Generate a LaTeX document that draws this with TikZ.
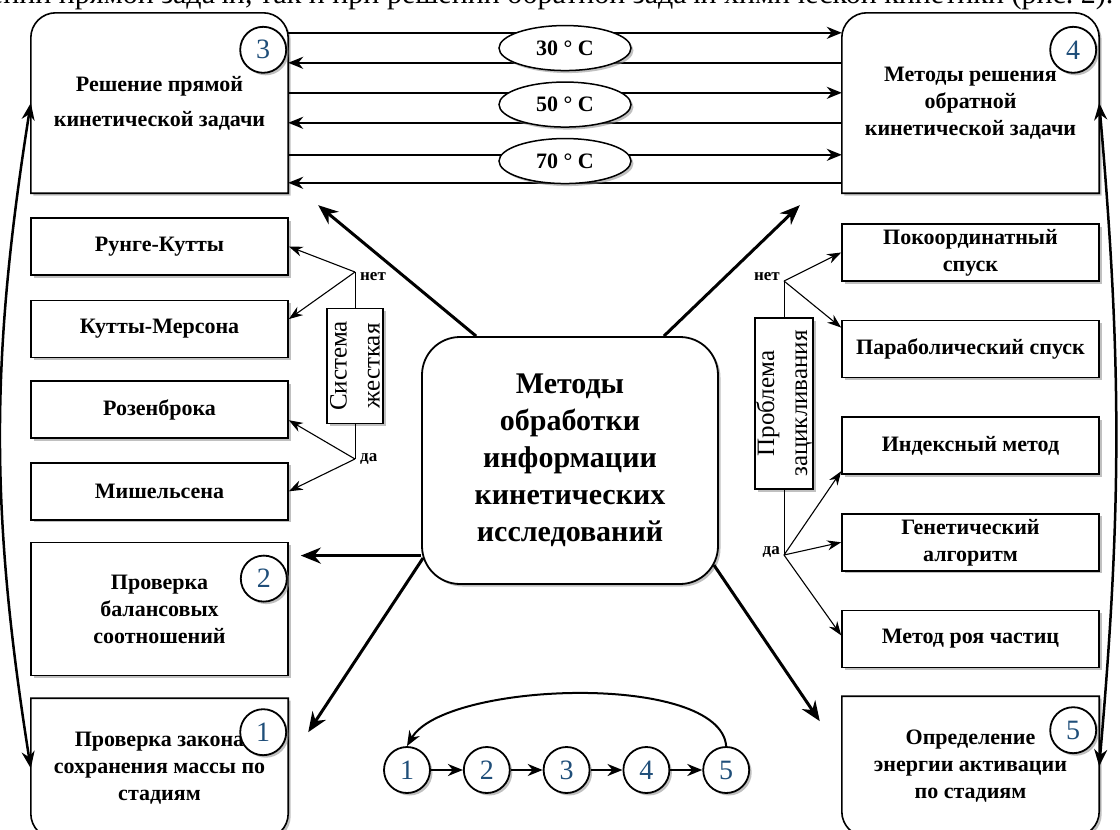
\documentclass[tikz,border=0pt]{standalone}
\usepackage{fontspec}
\setmainfont{Liberation Serif}
\usepackage{xcolor}
\usepackage{tikz}
\usetikzlibrary{shapes.geometric, arrows.meta, positioning, calc, backgrounds, shadows}

\definecolor{numblue}{HTML}{1F4E79}

\begin{document}
\begin{tikzpicture}[
    x=1pt, y=1pt,
    node distance=23pt and 20pt,
    font=\fontsize{22}{27}\selectfont\bfseries,
    dropsh/.style={drop shadow={shadow xshift=2.5pt, shadow yshift=-2.5pt, fill=black!45, opacity=0.55}},
    big/.style={minimum width=257pt, minimum height=180pt, align=center, inner sep=0pt},
    outline/.style={line width=1.6pt, fill=white, dropsh},
    method/.style={draw, line width=1.6pt, fill=white, dropsh, minimum width=257pt, minimum height=57pt, align=center, inner sep=2pt},
    cen/.style={draw, line width=1.8pt, fill=white, dropsh, rounded corners=38pt, minimum width=296pt, minimum height=247pt, align=center, font=\fontsize{30}{37}\selectfont\bfseries},
    badge/.style={circle, draw, line width=1.8pt, fill=white, dropsh, minimum size=46pt, inner sep=0pt, font=\fontsize{28}{28}\selectfont\mdseries, text=numblue},
    temp/.style={ellipse, draw, line width=1.5pt, fill=white, dropsh, minimum width=132pt, minimum height=45pt, inner sep=0pt},
    cond/.style={draw, line width=1.2pt, fill=white, dropsh, rotate=90, align=center, inner sep=1pt, font=\fontsize{25}{33}\selectfont\mdseries},
    lbl/.style={inner sep=1pt, font=\fontsize{17}{17}\selectfont\bfseries},
    arrow/.style={-{Stealth[length=15pt, width=12pt]}, line width=2pt},
    bigarrow/.style={-{Stealth[length=20pt, width=16pt]}, line width=3pt},
    dblarrow/.style={{Stealth[length=17pt, width=13pt]}-{Stealth[length=17pt, width=13pt]}, line width=2.5pt},
    branch/.style={-{Stealth[length=14pt, width=10pt]}, line width=1.1pt}
]
    \useasboundingbox (0,0) rectangle (1120,-830);

    % Page text cut by the top edge
    \begin{scope}
        \clip (0,0) rectangle (1120,-830);
        \node[anchor=base east, font=\fontsize{30}{32}\selectfont\mdseries] (pagetext) at (1117,-3.5) {ении прямой задачи, так и при решении обратной задачи химической кинетики (рис.~2).};
    \end{scope}

    % Direct and inverse problem
    \node[big] (b3) at (159.5,-103) {Решение прямой\\[8pt]кинетической задачи};
    \node[big] (b4) at (970.5,-103) {Методы решения\\обратной\\кинетической задачи};

    % Left column
    \node[method, below=24pt of b3] (rk) {Рунге-Кутты};
    \node[method, below=24pt of rk] (km) {Кутты-Мерсона};
    \node[method, below=22pt of km] (rb) {Розенброка};
    \node[method, below=23pt of rb] (mi) {Мишельсена};
    \node[method, below=21pt of mi, minimum height=133pt] (b2) {Проверка\\балансовых\\соотношений};
    \node[big, below=22pt of b2, minimum height=140pt] (b1) {Проверка закона\\сохранения массы по\\стадиям};

    % Right column
    \node[method, below=30pt of b4] (pk) {Покоординатный\\спуск};
    \node[method, below=38pt of pk] (pb) {Параболический спуск};
    \node[method, below=38pt of pb] (ix) {Индексный метод};
    \node[method, below=38pt of ix] (ga) {Генетический\\алгоритм};
    \node[method, below=38pt of ga] (pr) {Метод роя частиц};
    \node[big, below=28pt of pr, minimum height=140pt] (b5) {Определение\\энергии активации\\по стадиям};

    % Central node
    \node[cen] (cen) at (570,-460.5) {Методы\\обработки\\информации\\кинетических\\исследований};

    % Stage numbers
    \node[badge] (n3) at ($(b3.north east)+(-25,-37)$) {3};
    \node[badge] (n4) at ($(b4.north east)+(-26,-37)$) {4};
    \node[badge] (n2) at ($(b2.north east)+(-25,-37)$) {2};
    \node[badge] (n1) at ($(b1.north east)+(-25,-34)$) {1};
    \node[badge] (n5) at ($(b5.north east)+(-26,-34)$) {5};

    % Temperatures
    \node[temp, below=12pt of $(b3.north east)!0.5!(b4.north west)$] (t30) {30 ° C};
    \node[temp, below=10pt of t30] (t50) {50 ° C};
    \node[temp, below=10pt of t50] (t70) {70 ° C};

    % Conditions
    \node[cond, minimum width=115pt, minimum height=56pt] (sys) at (355,-366) {Система\\жесткая};
    \node[cond, minimum width=171pt, minimum height=58pt] (prob) at (784,-403.5) {Проблема\\зацикливания};
    \coordinate (net1) at ($(sys)+(0,94)$); \coordinate (da1) at ($(sys)+(0,-93)$);
    \coordinate (net2) at ($(prob)+(0,122.5)$); \coordinate (da2) at ($(prob)+(0,-151.5)$);
    \node[lbl, anchor=west] (lnet1) at ($(net1)+(4,-5)$) {нет};
    \node[lbl, anchor=west] (lda1) at ($(da1)+(4,0)$) {да};
    \node[lbl, anchor=east] (lnet2) at ($(net2)+(-3,4)$) {нет};
    \node[lbl, anchor=east] (lda2) at ($(da2)+(-3,3)$) {да};

    % Stage cycle
    \node[badge] (c1) at (407,-770) {1};
    \node[badge, right=32pt of c1] (c2) {2};
    \node[badge, right=32pt of c2] (c3) {3};
    \node[badge, right=32pt of c3] (c4) {4};
    \node[badge, right=32pt of c4] (c5) {5};

    % Box outlines and temperature lines
    \begin{scope}[on background layer]
        \draw[outline] (b3.south west) -- ([yshift=-25pt]b3.north west) arc[start angle=180, end angle=90, radius=25pt] -- ([xshift=-25pt]b3.north east) arc[start angle=90, end angle=0, radius=25pt] -- (b3.south east) -- cycle;
        \draw[outline] (b4.south west) -- ([yshift=-25pt]b4.north west) arc[start angle=180, end angle=90, radius=25pt] -- ([xshift=-25pt]b4.north east) arc[start angle=90, end angle=0, radius=25pt] -- (b4.south east) -- cycle;
        \draw[outline] (b1.north west) -- ([yshift=25pt]b1.south west) arc[start angle=180, end angle=270, radius=25pt] -- ([xshift=-25pt]b1.south east) arc[start angle=270, end angle=360, radius=25pt] -- (b1.north east) -- cycle;
        \draw[outline] (b5.north west) -- ([yshift=25pt]b5.south west) arc[start angle=180, end angle=270, radius=25pt] -- ([xshift=-25pt]b5.south east) arc[start angle=270, end angle=360, radius=25pt] -- (b5.north east) -- cycle;

        \draw[arrow] ([yshift=-20pt]b3.north east) -- ([yshift=-20pt]b4.north west);
        \draw[arrow] ([yshift=-50pt]b4.north west) -- ([yshift=-50pt]b3.north east);
        \draw[arrow] ([yshift=-80pt]b3.north east) -- ([yshift=-80pt]b4.north west);
        \draw[arrow] ([yshift=-110pt]b4.north west) -- ([yshift=-110pt]b3.north east);
        \draw[arrow] ([yshift=-142pt]b3.north east) -- ([yshift=-142pt]b4.north west);
        \draw[arrow] ([yshift=-170pt]b4.north west) -- ([yshift=-170pt]b3.north east);
    \end{scope}

    % Connections
    \draw[bigarrow] ([xshift=55pt]cen.north west) -- ([xshift=30pt, yshift=-12pt]b3.south east);
    \draw[bigarrow] ([xshift=-55pt]cen.north east) -- ([xshift=-42pt, yshift=-12pt]b4.south west);
    \coordinate (tip2) at ($(b2.north east)+(12,-14)$);
    \draw[bigarrow] (cen.west |- tip2) -- (tip2);
    \draw[bigarrow] ([xshift=2pt, yshift=-97.5pt]cen.west) -- ($(b1.north east)+(20,-34)$);
    \draw[bigarrow] ([xshift=-5pt, yshift=-104.5pt]cen.east) -- ($(b5.north west)+(-22,-25)$);

    \draw[dblarrow] (b3.west) to[bend right=9] (b1.west);
    \draw[dblarrow] (b4.east) to[bend left=5] (b5.east);

    \draw[line width=1pt] (net1) -- (sys); \draw[line width=1pt] (sys) -- (da1);
    \draw[line width=1pt] (net2) -- (prob); \draw[line width=1pt] (prob) -- (da2);
    \draw[branch] (net1) -- (rk.east); \draw[branch] (net1) -- ([yshift=10pt]km.east);
    \draw[branch] (da1) -- ([yshift=-10.5pt]rb.east); \draw[branch] (da1) -- (mi.east);
    \draw[branch] (net2) -- (pk.west); \draw[branch] (net2) -- ([yshift=21.5pt]pb.west);
    \draw[branch] (da2) -- ([yshift=-25.5pt]ix.west); \draw[branch] (da2) -- (ga.west); \draw[branch] (da2) -- ([yshift=3.5pt]pr.west);

    \draw[arrow] (c1) -- (c2); \draw[arrow] (c2) -- (c3); \draw[arrow] (c3) -- (c4); \draw[arrow] (c4) -- (c5);
    \draw[arrow] (c5.north) to[out=95, in=60, looseness=0.6] (c1.north);
\end{tikzpicture}
\end{document}
